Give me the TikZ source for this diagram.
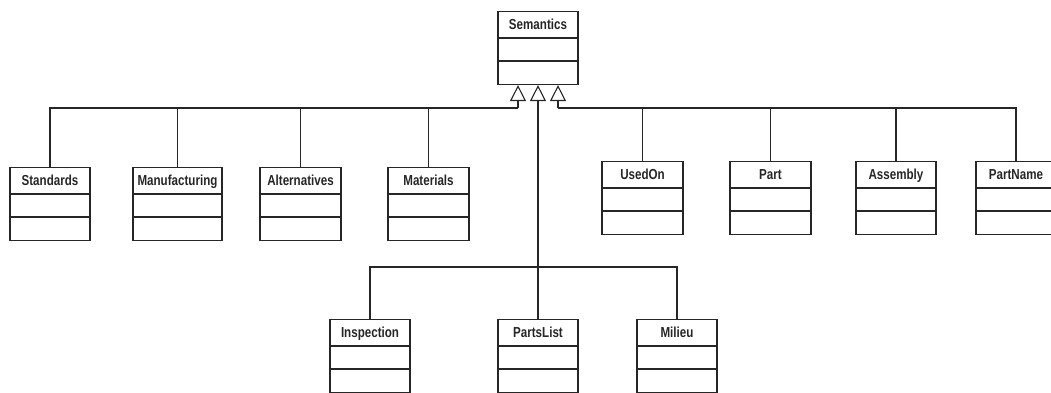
\documentclass[tikz,border=0pt]{standalone}
\usepackage{fontspec}
\setmainfont{Liberation Sans}[FakeStretch=0.8]
\usetikzlibrary{arrows.meta,calc}

\tikzset{
  uml/.style={draw=black!85, line width=1.1pt},
  classbox/.style={uml, rectangle, inner sep=0pt, anchor=north,
    minimum height=73pt},
  classtitle/.style={font=\bfseries\fontsize{14.5}{15}\selectfont, text=black!85,
    inner sep=0pt, anchor=base},
  link/.style={uml},
  inherit/.style={uml, -{Triangle[open, length=16pt, width=16pt]}}
}

% #1 node name, #2 centre x, #3 top y, #4 width, #5 class name
\newcommand\umlclass[5]{%
  \node[classbox, minimum width=#4pt] (#1) at (#2,#3) {};
  \node[classtitle] (#1-t) at ($(#1.north)+(0,-18.5pt)$) {#5};
  \draw[uml] ([yshift=-27pt]#1.north west) -- ([yshift=-27pt]#1.north east);
  \draw[uml] ([yshift=-50pt]#1.north west) -- ([yshift=-50pt]#1.north east);
}

\begin{document}
\begin{tikzpicture}[x=1pt, y=-1pt]
\useasboundingbox (0,0) rectangle (1051,393);

% superclass
\umlclass{sem}{538}{11}{80}{Semantics}

% subclasses, upper row
\umlclass{std}{50}{167}{80}{Standards}
\umlclass{man}{177.5}{167}{89}{Manufacturing}
\umlclass{alt}{300.5}{167}{81}{Alternatives}
\umlclass{mat}{428.5}{167}{81}{Materials}
\umlclass{use}{642.5}{161}{81}{UsedOn}
\umlclass{prt}{770.5}{161}{81}{Part}
\umlclass{asm}{896}{161}{80}{Assembly}
\umlclass{pnm}{1016}{161}{80}{PartName}

% subclasses, lower row
\umlclass{ins}{370}{319}{80}{Inspection}
\umlclass{pls}{538}{319}{80}{PartsList}
\umlclass{mil}{677}{319}{80}{Milieu}

% bus junctions
\coordinate (jl) at (518,108);
\coordinate (jr) at (558,108);
\coordinate (jm) at (538,267);

% generalisation arrows into the superclass
\draw[inherit] (jl) -- (jl |- sem.south);
\draw[inherit] (jr) -- (jr |- sem.south);
\draw[inherit] (jm) -- (jm |- sem.south);

% left bus
\draw[link] (std.north) |- (jl);
\draw[link] (man.north) |- (jl);
\draw[link] (alt.north) |- (jl);
\draw[link] (mat.north) |- (jl);

% right bus
\draw[link] (use.north) |- (jr);
\draw[link] (prt.north) |- (jr);
\draw[link] (asm.north) |- (jr);
\draw[link] (pnm.north) |- (jr);

% lower bus
\draw[link] (ins.north) |- (jm);
\draw[link] (pls.north) -- (jm);
\draw[link] (mil.north) |- (jm);
\end{tikzpicture}
\end{document}
